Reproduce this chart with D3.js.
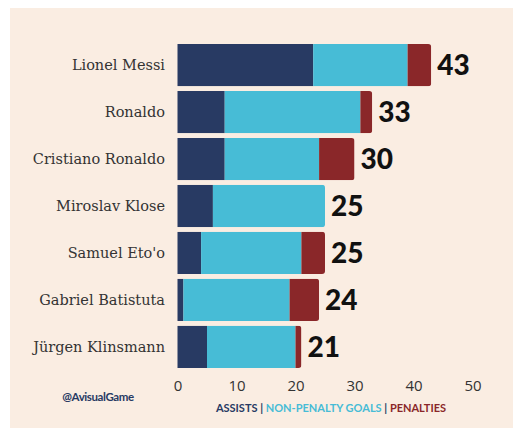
<!DOCTYPE html>
<html>
<head>
<meta charset="utf-8">
<script src="https://cdn.jsdelivr.net/npm/d3@7"></script>
<style>
  body { margin: 0; background: #fff; }
  svg { display: block; }
</style>
</head>
<body>
<div id="chart"></div>
<script>
// data
const players = ["Lionel Messi", "Ronaldo", "Cristiano Ronaldo", "Miroslav Klose", "Samuel Eto'o", "Gabriel Batistuta", "Jürgen Klinsmann"];
const assists = [23, 8, 8, 6, 4, 1, 5];
const nonPenaltyGoals = [16, 23, 16, 19, 17, 18, 15];
const penalties = [4, 2, 6, 0, 4, 5, 1];
const tickValues = [0, 10, 20, 30, 40, 50];
const seriesNames = ["ASSISTS", "NON-PENALTY GOALS", "PENALTIES"];
const seriesColors = ["#283a63", "#47bcd6", "#8a2729"];

const width = 514, height = 430;

const svg = d3.select("#chart").append("svg")
    .attr("width", width)
    .attr("height", height);

// cream panel
svg.append("rect")
    .attr("x", 10).attr("y", 8)
    .attr("width", 503).attr("height", 420)
    .attr("fill", "#faede2");

const x = d3.scaleLinear().domain([0, 50]).range([177.5, 472.5]);
const y = d3.scaleBand().domain(players).range([44, 368]).paddingInner(0.1);

const rows = players.map((name, i) => {
    const vals = [assists[i], nonPenaltyGoals[i], penalties[i]];
    let acc = 0;
    const segs = vals.map((v, k) => {
        const s = {x0: acc, x1: acc + v, k: k};
        acc += v;
        return s;
    });
    return {name, i, segs, total: acc};
});

// rounded right end for each bar
const defs = svg.append("defs");
defs.selectAll("clipPath")
    .data(rows)
    .join("clipPath")
    .attr("id", d => "clip" + d.i)
    .append("rect")
    .attr("x", x(0) - 6)
    .attr("y", d => y(d.name))
    .attr("width", d => x(d.total) - x(0) + 6)
    .attr("height", y.bandwidth())
    .attr("rx", 3);

const bars = svg.selectAll(".bar")
    .data(rows)
    .join("g")
    .attr("class", "bar")
    .attr("clip-path", d => `url(#clip${d.i})`);

bars.selectAll("rect")
    .data(d => d.segs.filter(s => s.x1 > s.x0).map(s => ({...s, name: d.name})))
    .join("rect")
    .attr("x", s => x(s.x0))
    .attr("y", s => y(s.name))
    .attr("width", s => x(s.x1) - x(s.x0))
    .attr("height", y.bandwidth())
    .attr("fill", s => seriesColors[s.k]);

// player names
svg.selectAll(".name")
    .data(rows)
    .join("text")
    .attr("class", "name")
    .attr("x", 165)
    .attr("y", d => y(d.name) + y.bandwidth() / 2)
    .attr("dy", "0.35em")
    .attr("text-anchor", "end")
    .attr("font-family", "'DejaVu Serif', serif")
    .attr("font-size", 14.5)
    .attr("fill", "#333")
    .text(d => d.name);

// totals
svg.selectAll(".total")
    .data(rows)
    .join("text")
    .attr("class", "total")
    .attr("x", d => x(d.total) + 6)
    .attr("y", d => y(d.name) + y.bandwidth() / 2)
    .attr("dy", "0.36em")
    .attr("font-family", "Lato, sans-serif")
    .attr("font-weight", 900)
    .attr("font-size", 28)
    .attr("fill", "#111")
    .text(d => d.total);

// x axis
const xAxis = d3.axisBottom(x).tickValues(tickValues).tickSize(0).tickPadding(0);
const axisG = svg.append("g")
    .attr("transform", "translate(0,380)")
    .call(xAxis);
axisG.select(".domain").remove();
axisG.selectAll("text")
    .attr("font-family", "'Open Sans', sans-serif")
    .attr("font-size", 15)
    .attr("fill", "#333");

// credit
svg.append("text")
    .attr("x", 98).attr("y", 401)
    .attr("text-anchor", "middle")
    .attr("font-family", "Lato, sans-serif")
    .attr("font-weight", 700)
    .attr("font-size", 11.5)
    .attr("letter-spacing", -0.4)
    .attr("fill", "#283a63")
    .text("@AvisualGame");

// legend
const legend = svg.append("text")
    .attr("x", 331).attr("y", 412)
    .attr("text-anchor", "middle")
    .attr("font-family", "Lato, sans-serif")
    .attr("font-weight", 700)
    .attr("font-size", 11);
seriesNames.forEach((n, k) => {
    if (k > 0) legend.append("tspan").attr("fill", "#283a63").text("  |  ");
    legend.append("tspan").attr("fill", seriesColors[k]).text(n);
});
</script>
</body>
</html>
